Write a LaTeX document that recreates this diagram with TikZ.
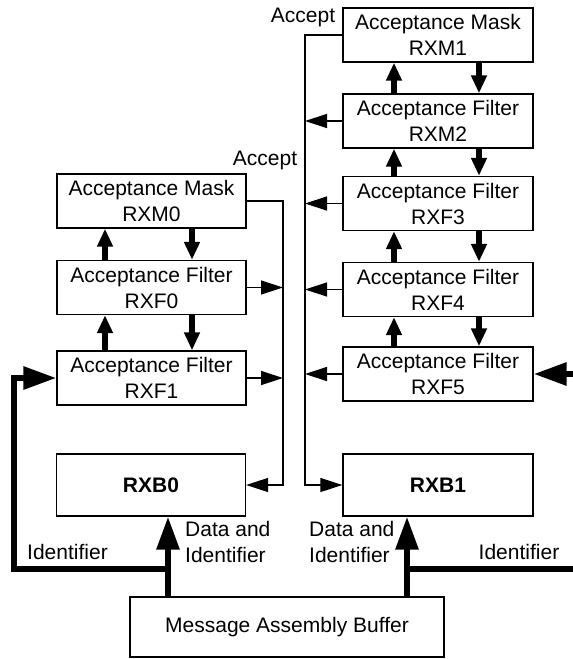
\documentclass[tikz,border=0pt]{standalone}
\usepackage{fontspec}
\setmainfont{Liberation Sans}
\usetikzlibrary{arrows.meta}
\begin{document}
\begin{tikzpicture}[x=1pt,y=-1pt,
  font=\fontsize{21}{26}\selectfont,
  box/.style={draw,line width=1.3pt,align=center,inner sep=0pt,minimum width=189pt,minimum height=54pt},
  thinarrow/.style={line width=1.3pt,-{Triangle[length=22pt,width=14pt]}},
  thinline/.style={line width=1.3pt},
  fatarrow/.style={line width=6pt,-{Triangle[length=18pt,width=15pt]}},
  idarrow/.style={line width=6pt,-{Triangle[length=33pt,width=22pt]}},
  idline/.style={line width=6pt},
  lbl/.style={inner sep=0pt}]
\useasboundingbox (0,0) rectangle (573,659);
% left column
\node[box] (rxm0) at (151.5,201) {Acceptance Mask\\RXM0};
\node[box] (rxf0) at (151.5,287.5) {Acceptance Filter\\RXF0};
\node[box] (rxf1) at (151.5,378) {Acceptance Filter\\RXF1};
\node[box,minimum height=62pt] (rxb0) at (151,485) {\textbf{RXB0}};
% right column
\node[box,minimum width=190pt] (rxm1) at (438,35) {Acceptance Mask\\RXM1};
\node[box,minimum width=190pt] (rxm2) at (438,121) {Acceptance Filter\\RXM2};
\node[box,minimum width=190pt] (rxf3) at (438,203.5) {Acceptance Filter\\RXF3};
\node[box,minimum width=190pt] (rxf4) at (438,289.5) {Acceptance Filter\\RXF4};
\node[box,minimum width=190pt] (rxf5) at (438,374) {Acceptance Filter\\RXF5};
\node[box,minimum width=190pt,minimum height=62pt] (rxb1) at (438,485) {\textbf{RXB1}};
% message assembly buffer
\node[box,minimum width=314pt,minimum height=60pt] (mab) at (287,627) {Message Assembly Buffer};
% helper coordinates
\coordinate (LV) at (283,0);
\coordinate (RV) at (305,0);
\coordinate (Lup) at (105,0);
\coordinate (Ldn) at (192,0);
\coordinate (Rup) at (394,0);
\coordinate (Rdn) at (479,0);
\coordinate (LI) at (168,569);
\coordinate (LC) at (14,569);
\coordinate (RI) at (407,569);
\coordinate (RE) at (573,569);
% accept buses
\draw[thinarrow] (rxm0.east) -| (LV |- rxb0.east) -- (rxb0.east);
\draw[thinarrow] (rxf0.east) -- (rxf0.east -| LV);
\draw[thinarrow] (rxf1.east) -- (rxf1.east -| LV);
\draw[thinarrow] (rxm1.west) -| (RV |- rxb1.west) -- (rxb1.west);
\draw[thinarrow] (rxm2.west) -- (rxm2.west -| RV);
\draw[thinarrow] (rxf3.west) -- (rxf3.west -| RV);
\draw[thinarrow] (rxf4.west) -- (rxf4.west -| RV);
\draw[thinarrow] (rxf5.west) -- (rxf5.west -| RV);
% fat arrows between boxes
\draw[fatarrow] (rxf0.north -| Lup) -- (rxm0.south -| Lup);
\draw[fatarrow] (rxm0.south -| Ldn) -- (rxf0.north -| Ldn);
\draw[fatarrow] (rxf1.north -| Lup) -- (rxf0.south -| Lup);
\draw[fatarrow] (rxf0.south -| Ldn) -- (rxf1.north -| Ldn);
\draw[fatarrow] (rxm2.north -| Rup) -- (rxm1.south -| Rup);
\draw[fatarrow] (rxm1.south -| Rdn) -- (rxm2.north -| Rdn);
\draw[fatarrow] (rxf3.north -| Rup) -- (rxm2.south -| Rup);
\draw[fatarrow] (rxm2.south -| Rdn) -- (rxf3.north -| Rdn);
\draw[fatarrow] (rxf4.north -| Rup) -- (rxf3.south -| Rup);
\draw[fatarrow] (rxf3.south -| Rdn) -- (rxf4.north -| Rdn);
\draw[fatarrow] (rxf5.north -| Rup) -- (rxf4.south -| Rup);
\draw[fatarrow] (rxf4.south -| Rdn) -- (rxf5.north -| Rdn);
% identifier paths
\draw[idarrow] (mab.north -| LI) -- (rxb0.south -| LI);
\draw[idarrow,line join=miter] (LI) -- (LC) |- (rxf1.west);
\draw[idarrow] (mab.north -| RI) -- (rxb1.south -| RI);
\draw[idline] (RI) -- (RE);
\draw[idarrow] (rxf5.east -| RE) -- (rxf5.east);
% labels
\node[lbl] (acc1) at (303,17) {Accept};
\node[lbl] (acc0) at (265,160) {Accept};
\node[lbl] (idl) at (67.5,552) {Identifier};
\node[lbl] (idr) at (519,552) {Identifier};
\node[lbl,anchor=west,align=left] (dil) at (185,542) {Data and\\Identifier};
\node[lbl,anchor=west,align=left] (dir) at (309,542) {Data and\\Identifier};
\end{tikzpicture}
\end{document}
